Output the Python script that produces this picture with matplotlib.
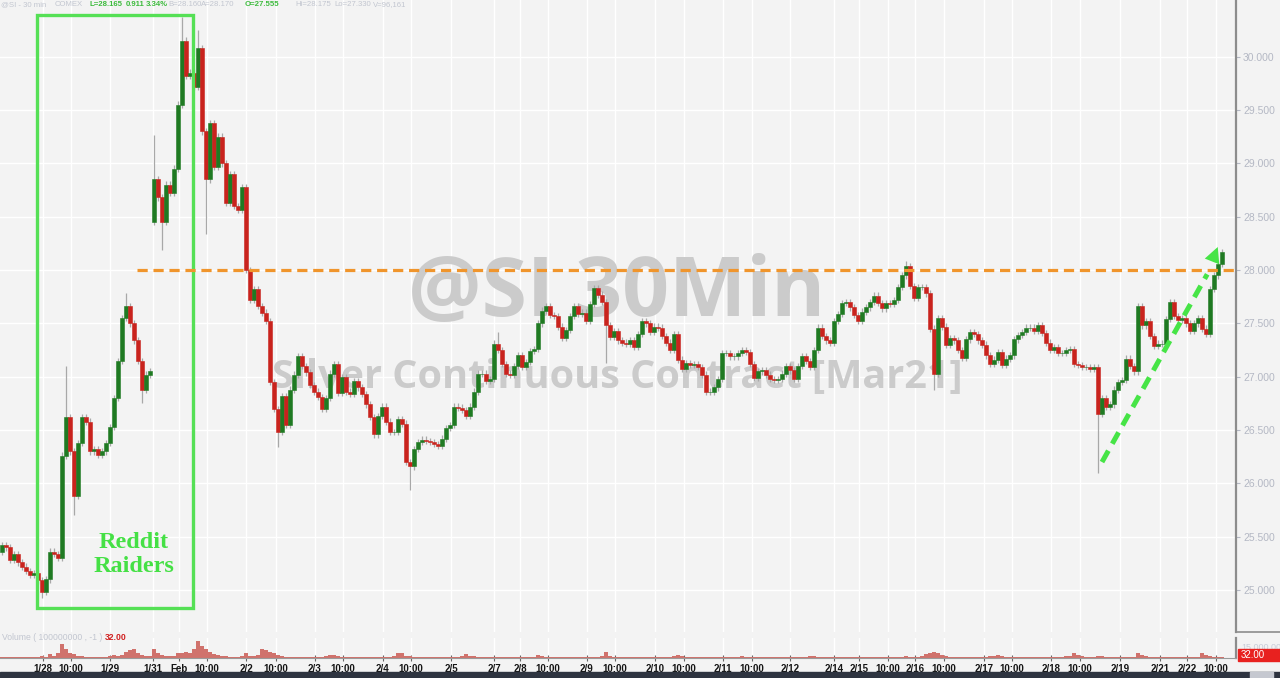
import numpy as np
import matplotlib
matplotlib.use('Agg')
import matplotlib.pyplot as plt
from matplotlib.patches import Rectangle
from matplotlib.lines import Line2D

plt.rcParams['font.family'] = ['Liberation Sans', 'DejaVu Sans']

# 30-min closes of SI (Silver Mar21), one entry per bar, 1/27 evening -> 2/22 10:00
closes = [
    25.42, 25.40, 25.28, 25.34, 25.26, 25.22, 25.18, 25.14, 25.16, 25.09,
    24.98, 25.10, 25.36, 25.34, 25.30, 26.26, 26.62, 26.30, 25.88, 26.38,
    26.62, 26.58, 26.30, 26.32, 26.27, 26.30, 26.38, 26.53, 26.80, 27.15,
    27.55, 27.66, 27.50, 27.34, 27.15, 26.88, 27.02, 27.05, 28.85, 28.68,
    28.45, 28.80, 28.72, 28.95, 29.55, 30.15, 29.82, 29.85, 29.72, 30.08,
    29.30, 28.85, 29.38, 28.97, 29.25, 29.00, 28.63, 28.90, 28.60, 28.56,
    28.78, 28.00, 27.72, 27.82, 27.66, 27.60, 27.52, 26.95, 26.70, 26.48,
    26.82, 26.55, 26.88, 27.02, 27.19, 27.10, 27.04, 26.92, 26.86, 26.81,
    26.70, 26.80, 27.03, 27.12, 26.85, 27.00, 26.86, 26.84, 26.96, 26.90,
    26.84, 26.74, 26.62, 26.46, 26.63, 26.72, 26.58, 26.48, 26.48, 26.60,
    26.56, 26.20, 26.16, 26.32, 26.39, 26.41, 26.40, 26.39, 26.37, 26.35,
    26.42, 26.52, 26.55, 26.72, 26.71, 26.69, 26.63, 26.72, 26.86, 27.03,
    27.03, 26.96, 26.98, 27.31, 27.25, 27.12, 27.03, 27.02, 27.10, 27.20,
    27.09, 27.14, 27.24, 27.26, 27.50, 27.62, 27.66, 27.58, 27.57, 27.47,
    27.36, 27.44, 27.57, 27.66, 27.59, 27.60, 27.52, 27.68, 27.83, 27.77,
    27.70, 27.48, 27.37, 27.43, 27.34, 27.32, 27.31, 27.34, 27.28, 27.40,
    27.52, 27.50, 27.42, 27.47, 27.46, 27.38, 27.32, 27.25, 27.40, 27.16,
    27.07, 27.13, 27.11, 27.12, 27.09, 27.02, 26.86, 26.86, 26.90, 26.98,
    27.22, 27.22, 27.19, 27.19, 27.22, 27.25, 27.23, 27.12, 26.99, 27.05,
    27.06, 27.02, 26.98, 26.97, 26.98, 27.03, 27.10, 27.06, 26.98, 27.10,
    27.19, 27.15, 27.09, 27.25, 27.46, 27.38, 27.34, 27.32, 27.52, 27.59,
    27.69, 27.70, 27.65, 27.58, 27.52, 27.61, 27.65, 27.70, 27.76, 27.69,
    27.64, 27.69, 27.68, 27.72, 27.84, 27.95, 28.04, 27.85, 27.74, 27.84,
    27.84, 27.78, 27.45, 27.03, 27.55, 27.47, 27.30, 27.36, 27.34, 27.25,
    27.18, 27.35, 27.42, 27.40, 27.34, 27.30, 27.20, 27.12, 27.16, 27.23,
    27.11, 27.17, 27.20, 27.35, 27.39, 27.42, 27.46, 27.46, 27.43, 27.48,
    27.41, 27.32, 27.25, 27.28, 27.22, 27.22, 27.25, 27.26, 27.12, 27.11,
    27.09, 27.09, 27.07, 27.09, 26.65, 26.80, 26.72, 26.74, 26.88, 26.95,
    26.97, 27.17, 27.10, 27.05, 27.66, 27.48, 27.52, 27.38, 27.29, 27.31,
    27.31, 27.54, 27.70, 27.57, 27.53, 27.55, 27.50, 27.43, 27.50, 27.55,
    27.45, 27.40, 27.82, 27.95, 28.06, 28.17,
]
first_open = 25.36
session_opens = {38: 28.45}          # weekend gap open (1/31 evening)
spike_high = {16: 27.10, 31: 27.78, 38: 29.27, 45: 30.37, 49: 30.25, 124: 27.42, 226: 28.08}
spike_low = {10: 24.93, 18: 25.70, 35: 26.75, 40: 28.19, 51: 28.34, 69: 26.34,
             102: 25.94, 151: 27.13, 233: 26.88, 274: 26.10}

volume = [
    0.5, 0.4, 0.5, 0.4, 0.5, 0.4, 0.4, 0.5, 0.5, 0.6,
    1.0, 0.8, 2.5, 1.5, 3.0, 9.0, 6.0, 3.5, 2.5, 1.5,
    1.0, 0.8, 0.8, 0.6, 0.6, 0.7, 0.8, 1.0, 2.0, 1.5,
    2.0, 4.0, 5.0, 6.0, 3.5, 2.0, 1.5, 1.0, 6.0, 3.0,
    2.0, 1.5, 1.0, 1.5, 3.0, 3.0, 4.0, 3.0, 6.0, 11.0,
    8.0, 6.0, 4.0, 2.5, 2.0, 1.5, 1.0, 0.8, 0.8, 0.8,
    1.5, 3.0, 1.0, 1.0, 2.0, 6.0, 5.0, 4.0, 3.0, 2.0,
    1.0, 0.8, 0.6, 0.6, 0.5, 0.5, 0.5, 0.5, 0.5, 0.5,
    0.8, 1.0, 2.0, 2.0, 1.0, 0.6, 0.5, 0.5, 0.5, 0.5,
    0.5, 0.5, 0.5, 0.5, 0.5, 0.5, 0.5, 0.6, 1.0, 3.0,
    3.0, 1.5, 1.0, 0.8, 0.6, 0.5, 0.5, 0.5, 0.5, 0.5,
    0.5, 0.5, 0.5, 0.6, 0.8, 1.0, 2.5, 1.5, 1.0, 0.6,
    0.5, 0.5, 0.5, 0.8, 0.6, 0.5, 0.5, 0.5, 0.5, 0.5,
    0.5, 0.5, 0.5, 0.8, 2.0, 1.0, 0.6, 0.5, 0.5, 0.5,
    0.5, 0.5, 0.5, 0.5, 0.5, 0.5, 0.5, 0.5, 0.6, 0.8,
    1.0, 4.0, 1.0, 0.6, 0.5, 0.5, 0.5, 0.5, 0.5, 0.5,
    0.5, 0.5, 0.5, 0.5, 0.5, 0.5, 0.6, 0.8, 1.0, 2.0,
    1.0, 0.6, 0.5, 0.5, 0.5, 0.5, 0.5, 0.5, 0.5, 0.5,
    0.6, 0.8, 0.6, 0.5, 0.5, 1.5, 0.8, 0.5, 0.5, 0.5,
    0.5, 0.5, 0.5, 0.5, 0.5, 0.5, 0.5, 0.5, 0.5, 0.5,
    0.6, 0.8, 1.5, 1.0, 0.6, 0.5, 0.5, 0.5, 0.5, 0.5,
    0.5, 0.5, 0.5, 0.5, 0.5, 0.5, 0.5, 0.5, 0.5, 0.5,
    0.5, 0.5, 0.5, 0.5, 0.6, 0.8, 1.0, 0.8, 0.6, 0.8,
    1.5, 2.5, 3.5, 4.0, 3.0, 2.0, 1.0, 0.6, 0.5, 0.5,
    0.5, 0.5, 0.5, 0.5, 0.5, 0.6, 0.8, 1.0, 1.5, 2.0,
    1.0, 0.5, 0.5, 0.5, 0.5, 0.5, 0.5, 0.5, 0.5, 0.5,
    0.5, 0.5, 0.5, 0.5, 0.6, 0.8, 1.0, 1.5, 3.5, 2.0,
    1.0, 0.8, 0.6, 0.6, 1.5, 1.0, 0.6, 0.5, 0.5, 0.5,
    0.5, 0.5, 0.6, 0.8, 3.0, 2.0, 1.0, 0.6, 0.5, 0.5,
    0.5, 0.5, 0.5, 0.5, 0.5, 0.5, 0.5, 0.5, 0.6, 0.8,
    3.0, 2.0, 1.0, 0.6, 0.5, 0.5,
]

tick_pos = [10.25, 17.25, 27, 37.75, 44.25, 51.25, 61, 68.5, 78.25, 85.25, 95.25, 102.25,
            112.25, 123, 129.5, 136.5, 146.25, 153.25, 163.25, 170.5, 180.25, 187.5, 197,
            208, 214.25, 221.5, 228.25, 235.5, 245.5, 252.5, 262.25, 269.5, 279.5, 289.5,
            296.25, 303.5]
tick_labels = ['1/28', '10:00', '1/29', '1/31', 'Feb', '10:00', '2/2', '10:00', '2/3', '10:00',
               '2/4', '10:00', '2/5', '2/7', '2/8', '10:00', '2/9', '10:00', '2/10', '10:00',
               '2/11', '10:00', '2/12', '2/14', '2/15', '10:00', '2/16', '10:00', '2/17',
               '10:00', '2/18', '10:00', '2/19', '2/21', '2/22', '10:00']
price_ticks = [25.0, 25.5, 26.0, 26.5, 27.0, 27.5, 28.0, 28.5, 29.0, 29.5, 30.0]
resistance = 28.0

BG = '#f3f3f3'
UP, DOWN, WICK_C = '#1f7a22', '#c9231d', '#a8a8a8'
WICK = 0.03

c = np.array(closes)
o = np.array([first_open] + closes[:-1])
for k, v in session_opens.items():
    o[k] = v
idx = np.arange(len(c))
hi = np.maximum(o, c) + WICK
lo = np.minimum(o, c) - WICK
for k, v in spike_high.items():
    hi[k] = v
for k, v in spike_low.items():
    lo[k] = v
cols = np.where(c >= o, UP, DOWN)

W, H = 1280, 678
fig = plt.figure(figsize=(12.8, 6.78), dpi=100, facecolor=BG)
ax = fig.add_axes([0, 1 - 632 / H, 1236 / W, 632 / H], facecolor=BG)
axv = fig.add_axes([0, 1 - 658 / H, 1236 / W, 20 / H], facecolor=BG, sharex=ax)

ax.set_xlim(-0.5, 308.5)
ax.set_ylim(24.607, 30.531)
ax.set_axisbelow(True)
ax.set_xticks(tick_pos)
ax.set_yticks(price_ticks)
ax.grid(True, color='white', lw=1.0)
ax.tick_params(axis='x', length=0, labelbottom=False)
ax.yaxis.tick_right()
ax.set_yticklabels([f'{p:.3f}' for p in price_ticks])
ax.tick_params(axis='y', direction='out', length=3, width=0.8, pad=2, labelsize=7.5,
               colors='#b4b8c4')
for s in ['top', 'left', 'bottom']:
    ax.spines[s].set_visible(False)
ax.spines['right'].set_color('#8c8c8c')
ax.spines['right'].set_linewidth(1.6)

# watermark
ax.text(617 / W, 1 - 295 / H, '@SI 30Min', transform=fig.transFigure, ha='center', va='center',
        fontsize=59, fontweight='bold', family=['Open Sans', 'DejaVu Sans'], color='#cbcbcb', zorder=1)
ax.text(617 / W, 1 - 377 / H, 'Silver Continuous Contract [Mar21]', transform=fig.transFigure,
        ha='center', va='center', fontsize=28.5, fontweight='bold', family=['Open Sans', 'DejaVu Sans'],
        color='#cbcbcb', zorder=1)

# candles
ax.vlines(idx, lo, hi, color=WICK_C, lw=0.9, zorder=2)
ax.bar(idx, c - o, bottom=o, width=0.8, color=cols, edgecolor=cols, lw=0.4, zorder=3)

# annotations
ax.add_patch(Rectangle((8.75, 24.83), 39.0, 30.39 - 24.83, fill=False, ec='#55e055', lw=2.4, zorder=4))
ax.text(33.0, 25.33, 'Reddit\nRaiders', ha='center', va='center', fontsize=17.5, fontweight='bold',
        family=['Liberation Serif', 'DejaVu Serif'], color='#45e045', linespacing=1.2, zorder=4)
ax.plot([33.75, 308.5], [resistance, resistance], color='#f0952c', lw=2.3,
        linestyle=(0, (3.2, 1.8)), zorder=4, solid_capstyle='butt')
ax.plot([275, 301.3], [26.20, 27.96], color='#46e446', lw=3.6, linestyle=(0, (2.6, 1.6)),
        zorder=4, dash_capstyle='butt')
ax.annotate('', xy=(304.2, 28.24), xytext=(300.8, 27.92),
            arrowprops=dict(arrowstyle='-|>', color='#46e446', lw=0, mutation_scale=28), zorder=4)

# volume panel
axv.set_xlim(-0.5, 308.5)
axv.set_ylim(0, 13)
axv.set_axisbelow(True)
axv.bar(idx, volume, width=0.9, color='#d0726c', lw=0, zorder=2)
axv.set_xticks(tick_pos)
axv.set_xticklabels(tick_labels)
axv.grid(True, axis='x', color='white', lw=1.0)
axv.set_yticks([])
axv.tick_params(axis='x', direction='inout', length=5, width=0.8, pad=1.5, labelsize=7,
                colors='#666666', labelcolor='#151515')
for lab in axv.get_xticklabels():
    lab.set_fontweight('bold')
for s in ['top', 'left']:
    axv.spines[s].set_visible(False)
axv.spines['bottom'].set_color('#9a9a9a')
axv.spines['right'].set_color('#8c8c8c')
axv.spines['right'].set_linewidth(1.6)

# header line
hdr = [(1, '@SI - 30 min', '#c2c6d0', 'normal'), (55, 'COMEX', '#c2c6d0', 'normal'),
       (89, 'L=28.165', '#3dbb3d', 'bold'), (126, '0.911', '#3dbb3d', 'bold'),
       (146, '3.34%', '#3dbb3d', 'bold'), (168, 'B=28.160', '#c2c6d0', 'normal'),
       (201, 'A=28.170', '#c2c6d0', 'normal'), (245, 'O=27.555', '#3dbb3d', 'bold'),
       (295, 'Hi=28.175', '#c2c6d0', 'normal'), (334, 'Lo=27.330', '#c2c6d0', 'normal'),
       (373, 'V=96,161', '#c2c6d0', 'normal')]
for x, t, col, wt in hdr:
    fig.text(x / W, 1 - 5 / H, t, ha='left', va='center', fontsize=5.6, color=col, fontweight=wt)

fig.text(2 / W, 1 - 637 / H, 'Volume ( 100000000 , -1 )', ha='left', va='center', fontsize=6.2,
         color='#c2c6d0')
fig.text(105 / W, 1 - 637 / H, '32.00', ha='left', va='center', fontsize=6.2, color='#d02020',
         fontweight='bold')
fig.text(1241 / W, 1 - 647 / H, '15,000.00', ha='left', va='center', fontsize=6.5, color='#c8ccd8')
fig.patches.append(Rectangle((1238 / W, 1 - 661 / H), 42 / W, 12 / H, transform=fig.transFigure,
                             color='#e8211f', zorder=5))
fig.text(1241 / W, 1 - 655 / H, '32.00', ha='left', va='center', fontsize=7, color='white', zorder=6)
fig.lines.append(Line2D([1236 / W, 1], [1 - 632 / H] * 2, transform=fig.transFigure,
                        color='#8c8c8c', lw=1.2))
fig.patches.append(Rectangle((0, 0), 1, 6 / H, transform=fig.transFigure, color='#2e3440', zorder=5))
fig.patches.append(Rectangle((1250 / W, 0), 23 / W, 6 / H, transform=fig.transFigure,
                             color='#c5c8d0', zorder=6))

fig.savefig('out.png', dpi=100, facecolor=BG)
